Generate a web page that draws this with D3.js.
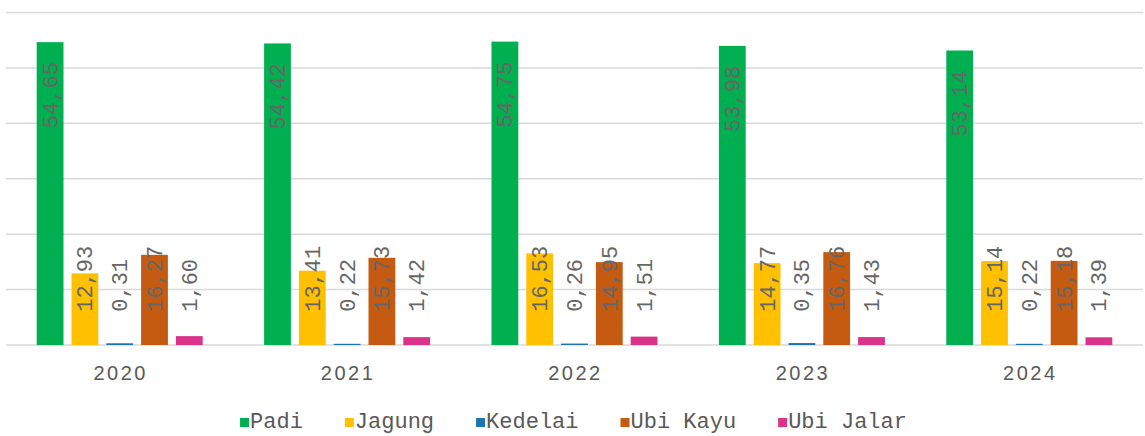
<!DOCTYPE html>
<html>
<head>
<meta charset="utf-8">
<script src="https://cdn.jsdelivr.net/npm/d3@7"></script>
<style>
    body { margin: 0; background: #fff; }
    svg { display: block; }
</style>
</head>
<body>
<svg id="chart" width="1145" height="436"></svg>
<script>
// data
const years = ['2020', '2021', '2022', '2023', '2024'];
const series = ['Padi', 'Jagung', 'Kedelai', 'Ubi Kayu', 'Ubi Jalar'];
const padi = [54.65, 54.42, 54.75, 53.98, 53.14];
const jagung = [12.93, 13.41, 16.53, 14.77, 15.14];
const kedelai = [0.31, 0.22, 0.26, 0.35, 0.22];
const ubiKayu = [16.27, 15.73, 14.95, 16.76, 15.18];
const ubiJalar = [1.60, 1.42, 1.51, 1.43, 1.39];
const gridTicks = [0, 10, 20, 30, 40, 50, 60];

const colors = {
    'Padi': '#00b050',
    'Jagung': '#ffc000',
    'Kedelai': '#1c75b0',
    'Ubi Kayu': '#c55a11',
    'Ubi Jalar': '#d9338a'
};

const values = [padi, jagung, kedelai, ubiKayu, ubiJalar];
const rows = [];
years.forEach(function (year, i) {
    series.forEach(function (s, j) {
        rows.push({year: year, series: s, value: values[j][i]});
    });
});

const svg = d3.select('#chart');
const margin = {top: 12.5, right: 2, bottom: 91, left: 6};
const svgWidth = +svg.attr('width');
const svgHeight = +svg.attr('height');

const xScale = d3.scaleBand()
    .domain(years)
    .range([margin.left, svgWidth - margin.right])
    .paddingInner(0.27)
    .paddingOuter(0.135);

const xSub = d3.scaleBand()
    .domain(series)
    .range([0, xScale.bandwidth()])
    .paddingInner(0.23);

const yScale = d3.scaleLinear()
    .domain([0, 60])
    .range([svgHeight - margin.bottom, margin.top]);

// grid lines
svg.append('g')
    .selectAll('line')
    .data(gridTicks)
    .enter()
    .append('line')
    .attr('x1', margin.left)
    .attr('x2', svgWidth - margin.right)
    .attr('y1', d => yScale(d))
    .attr('y2', d => yScale(d))
    .attr('stroke', '#d9d9d9')
    .attr('stroke-width', 1.5);

// bars
svg.append('g')
    .selectAll('rect')
    .data(rows)
    .enter()
    .append('rect')
    .attr('x', d => xScale(d.year) + xSub(d.series))
    .attr('y', d => yScale(d.value))
    .attr('width', xSub.bandwidth())
    .attr('height', d => yScale(0) - yScale(d.value))
    .attr('fill', d => colors[d.series]);

// value labels, rotated
const fmt = v => v.toFixed(2).replace('.', ',');
svg.append('g')
    .selectAll('text')
    .data(rows)
    .enter()
    .append('text')
    .attr('transform', function (d) {
        const x = xScale(d.year) + xSub(d.series) + xSub.bandwidth() / 2 + 7.5;
        const y = d.series === 'Padi' ? yScale(d.value) + 20 : yScale(6);
        return `translate(${x}, ${y}) rotate(-90)`;
    })
    .attr('text-anchor', d => d.series === 'Padi' ? 'end' : 'start')
    .style('font-family', '"Liberation Mono", "DejaVu Sans Mono", monospace')
    .style('font-size', '22px')
    .attr('fill', '#666666')
    .text(d => fmt(d.value));

// x axis labels
svg.append('g')
    .selectAll('text')
    .data(years)
    .enter()
    .append('text')
    .attr('x', d => xScale(d) + xScale.bandwidth() / 2 + 1)
    .attr('y', 380)
    .attr('text-anchor', 'middle')
    .style('font-family', '"Liberation Sans", Arial, sans-serif')
    .style('font-size', '20px')
    .style('letter-spacing', '2.5px')
    .attr('fill', '#595959')
    .text(d => d);

// legend
const legendG = svg.append('g');
const squareSize = 9;
const itemGap = 42;
let cursor = 0;
series.forEach(function (s) {
    const g = legendG.append('g');
    g.append('rect')
        .attr('x', 0)
        .attr('y', -squareSize - 1)
        .attr('width', squareSize)
        .attr('height', squareSize)
        .attr('fill', colors[s]);
    const t = g.append('text')
        .attr('x', squareSize + 1)
        .attr('y', 0)
        .style('font-family', '"Liberation Mono", "DejaVu Sans Mono", monospace')
        .style('font-size', '22px')
        .attr('fill', '#595959')
        .text(s);
    const w = squareSize + 1 + t.node().getComputedTextLength();
    g.attr('transform', `translate(${cursor}, 0)`);
    cursor += w + itemGap;
});
const legendWidth = cursor - itemGap;
legendG.attr('transform', `translate(${(svgWidth - legendWidth) / 2 + 1}, 428)`);
</script>
</body>
</html>
